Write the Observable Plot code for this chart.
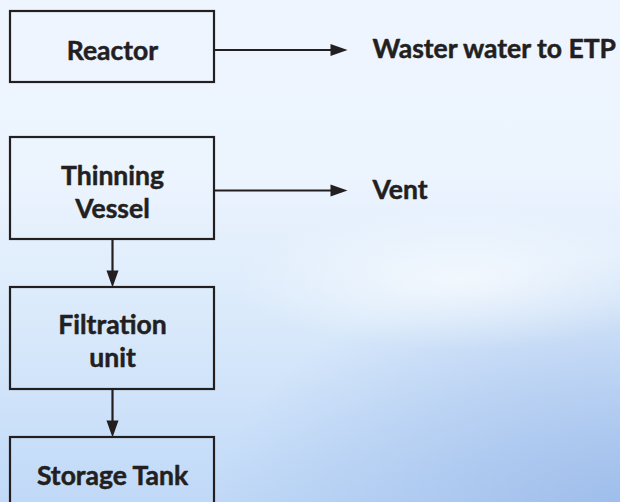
<!DOCTYPE html>
<html>
<head>
<meta charset="utf-8">
<script src="https://cdn.jsdelivr.net/npm/d3@7"></script>
<script src="https://cdn.jsdelivr.net/npm/@observablehq/plot@0.6"></script>
<style>
  html, body { margin: 0; padding: 0; overflow: hidden; }
  #chart { width: 620px; height: 502px; }
</style>
</head>
<body>
<div id="chart"></div>
<script>
// --- content ---
const stepLabels = ["Reactor", "Thinning\nVessel", "Filtration\nunit", "Storage Tank"];
const outputLabels = ["Waster water to ETP", "Vent"];
const outputFrom = [0, 1];           // which step each output leaves from
const flowFrom = [1, 2];             // vertical flow: step i -> step i+1

// --- layout (pixel-space coordinates of the diagram) ---
const boxLeft = 10, boxRight = 214;
const boxTop = [11, 137, 287, 437];
const boxBottom = [82, 239, 389, 540];
const labelY = [49, 190, 339, 474];
const outArrowY = [49.5, 190];
const outArrowEnd = 347;
const outLabelX = 372;
const headLen = 17, headHalf = 6;

const ink = "#231f20";
const font = "Lato, 'Open Sans', sans-serif";
const fs = 26.5;

const steps = stepLabels.map((label, i) => ({
  label, x1: boxLeft, x2: boxRight, y1: boxTop[i], y2: boxBottom[i],
  cx: (boxLeft + boxRight) / 2, cy: labelY[i]
}));
const outs = outputLabels.map((label, j) => ({
  label, x1: boxRight, x2: outArrowEnd - headLen + 1, tip: outArrowEnd, y: outArrowY[j], lx: outLabelX
}));
const flows = flowFrom.map(i => {
  const a = steps[i], b = steps[i + 1];
  return {x: a.cx, y1: a.y2, y2: b.y1 - headLen + 1, tip: b.y1};
});

const headRight = {draw(ctx) { ctx.moveTo(0, 0); ctx.lineTo(-headLen, -headHalf); ctx.lineTo(-headLen, headHalf); ctx.closePath(); }};
const headDown = {draw(ctx) { ctx.moveTo(0, 0); ctx.lineTo(-headHalf, -headLen); ctx.lineTo(headHalf, -headLen); ctx.closePath(); }};

const textStyle = {fill: ink, stroke: ink, strokeWidth: 0.5, fontSize: fs, fontWeight: 700, lineAnchor: "middle"};

const plot = Plot.plot({
  width: 620,
  height: 502,
  margin: 0,
  x: {domain: [0, 620], range: [0, 620], axis: null},
  y: {domain: [0, 502], range: [0, 502], axis: null},
  style: {
    overflow: "hidden",
    fontFamily: font,
    background: [
      "radial-gradient(ellipse 230px 70px at 460px 280px, rgba(255,255,255,0.6), rgba(255,255,255,0) 100%)",
      "radial-gradient(ellipse 430px 270px at 640px 525px, rgba(150,182,232,0.85), rgba(150,182,232,0) 100%)",
      "linear-gradient(180deg, #eef5fe 0%, #ecf4fe 35%, #dcebfb 60%, #cbe0f9 85%, #c0d9f7 100%)"
    ].join(",")
  },
  marks: [
    Plot.rect(steps, {x1: "x1", x2: "x2", y1: "y1", y2: "y2", fill: "none", stroke: ink, strokeWidth: 2.2}),
    Plot.text(steps, {x: "cx", y: "cy", text: "label", lineHeight: 1.25, ...textStyle}),
    Plot.link(outs, {x1: "x1", x2: "x2", y1: "y", y2: "y", stroke: ink, strokeWidth: 2.2}),
    Plot.dot(outs, {x: "tip", y: "y", symbol: headRight, fill: ink, stroke: "none"}),
    Plot.text(outs, {x: "lx", y: "y", text: "label", textAnchor: "start", ...textStyle}),
    Plot.link(flows, {x1: "x", x2: "x", y1: "y1", y2: "y2", stroke: ink, strokeWidth: 2.2}),
    Plot.dot(flows, {x: "x", y: "tip", symbol: headDown, fill: ink, stroke: "none"})
  ]
});
document.getElementById("chart").appendChild(plot);
</script>
</body>
</html>
